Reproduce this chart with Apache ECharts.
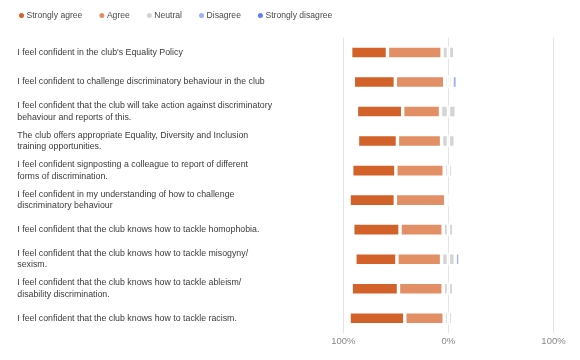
<!DOCTYPE html>
<html>
<head>
<meta charset="utf-8">
<style>html,body{margin:0;padding:0;background:#fff}#c{width:580px;height:360px}</style>
<script src="https://cdn.jsdelivr.net/npm/echarts@6/dist/echarts.min.js"></script>
</head>
<body>
<div id="c"></div>
<script>
const categories = [
  "I feel confident in the club's Equality Policy",
  "I feel confident to challenge discriminatory behaviour in the club",
  "I feel confident that the club will take action against discriminatory\nbehaviour and reports of this.",
  "The club offers appropriate Equality, Diversity and Inclusion\ntraining opportunities.",
  "I feel confident signposting a colleague to report of different\nforms of discrimination.",
  "I feel confident in my understanding of how to challenge\ndiscriminatory behaviour",
  "I feel confident that the club knows how to tackle homophobia.",
  "I feel confident that the club knows how to tackle misogyny/\nsexism.",
  "I feel confident that the club knows how to tackle ableism/\ndisability discrimination.",
  "I feel confident that the club knows how to tackle racism."
];
const stronglyAgree    = [35, 40, 44, 38, 42, 44, 45, 40, 45, 53];
const agree            = [52, 47, 36, 42, 46, 48, 41, 42.5, 42.5, 37.5];
const neutral          = [12, 7, 15, 13, 8, 5, 10, 13, 10, 8];
const disagree         = [0, 5, 3, 3, 2, 2, 2, 4.5, 1.5, 0];
const stronglyDisagree = [0, 0, 0, 3, 0, 0, 0, 0, 0, 0];
const xTicks = [-100, 0, 100];

const colors = {
  sa: '#d2622a', a: '#e38f66', n: '#d4d4d4', d: '#9cb0f6', sd: '#5f7ff0'
};
const FONT = 'Liberation Sans';
const chart = echarts.init(document.getElementById('c'), null, {renderer: 'canvas'});
function bar(name, data, color) {
  return {
    name, type: 'bar', stack: 'total', data, barWidth: 13,
    itemStyle: {color, borderColor: '#fff', borderWidth: 1.7},
    emphasis: {disabled: true}
  };
}
const half = neutral.map(v => v / 2);
chart.setOption({
  animation: false,
  color: [colors.sa, colors.a, colors.n, colors.d, colors.sd],
  legend: {
    data: ['Strongly agree', 'Agree', 'Neutral', 'Disagree', 'Strongly disagree'],
    left: 12, top: 6, icon: 'circle', itemWidth: 7, itemHeight: 7, itemGap: 15,
    textStyle: {fontFamily: FONT, fontSize: 8.6, color: '#4a4a4a', padding: [0, 0, 0, -3.5]}
  },
  grid: {left: 343.3, right: 26.5, top: 37.7, bottom: 27, containLabel: false},
  xAxis: {
    type: 'value', min: xTicks[0], max: xTicks[2], interval: 100,
    axisLine: {show: false}, axisTick: {show: false},
    splitLine: {lineStyle: {color: '#e4e4e4', width: 1}},
    axisLabel: {fontFamily: FONT, fontSize: 9.5, color: '#888', margin: 3,
      formatter: v => Math.abs(v) + '%'}
  },
  yAxis: {
    type: 'category', data: categories, inverse: true,
    axisLine: {show: false}, axisTick: {show: false},
    axisLabel: {align: 'left', margin: 326, fontFamily: FONT, fontSize: 8.8, color: '#3a3a3a', lineHeight: 11.7}
  },
  series: [
    bar('Neutral', half.map(v => -v), colors.n),
    bar('Agree', agree.map(v => -v), colors.a),
    bar('Strongly agree', stronglyAgree.map(v => -v), colors.sa),
    bar('Neutral', half, colors.n),
    bar('Disagree', disagree, colors.d),
    bar('Strongly disagree', stronglyDisagree, colors.sd)
  ]
});
</script>
</body>
</html>
